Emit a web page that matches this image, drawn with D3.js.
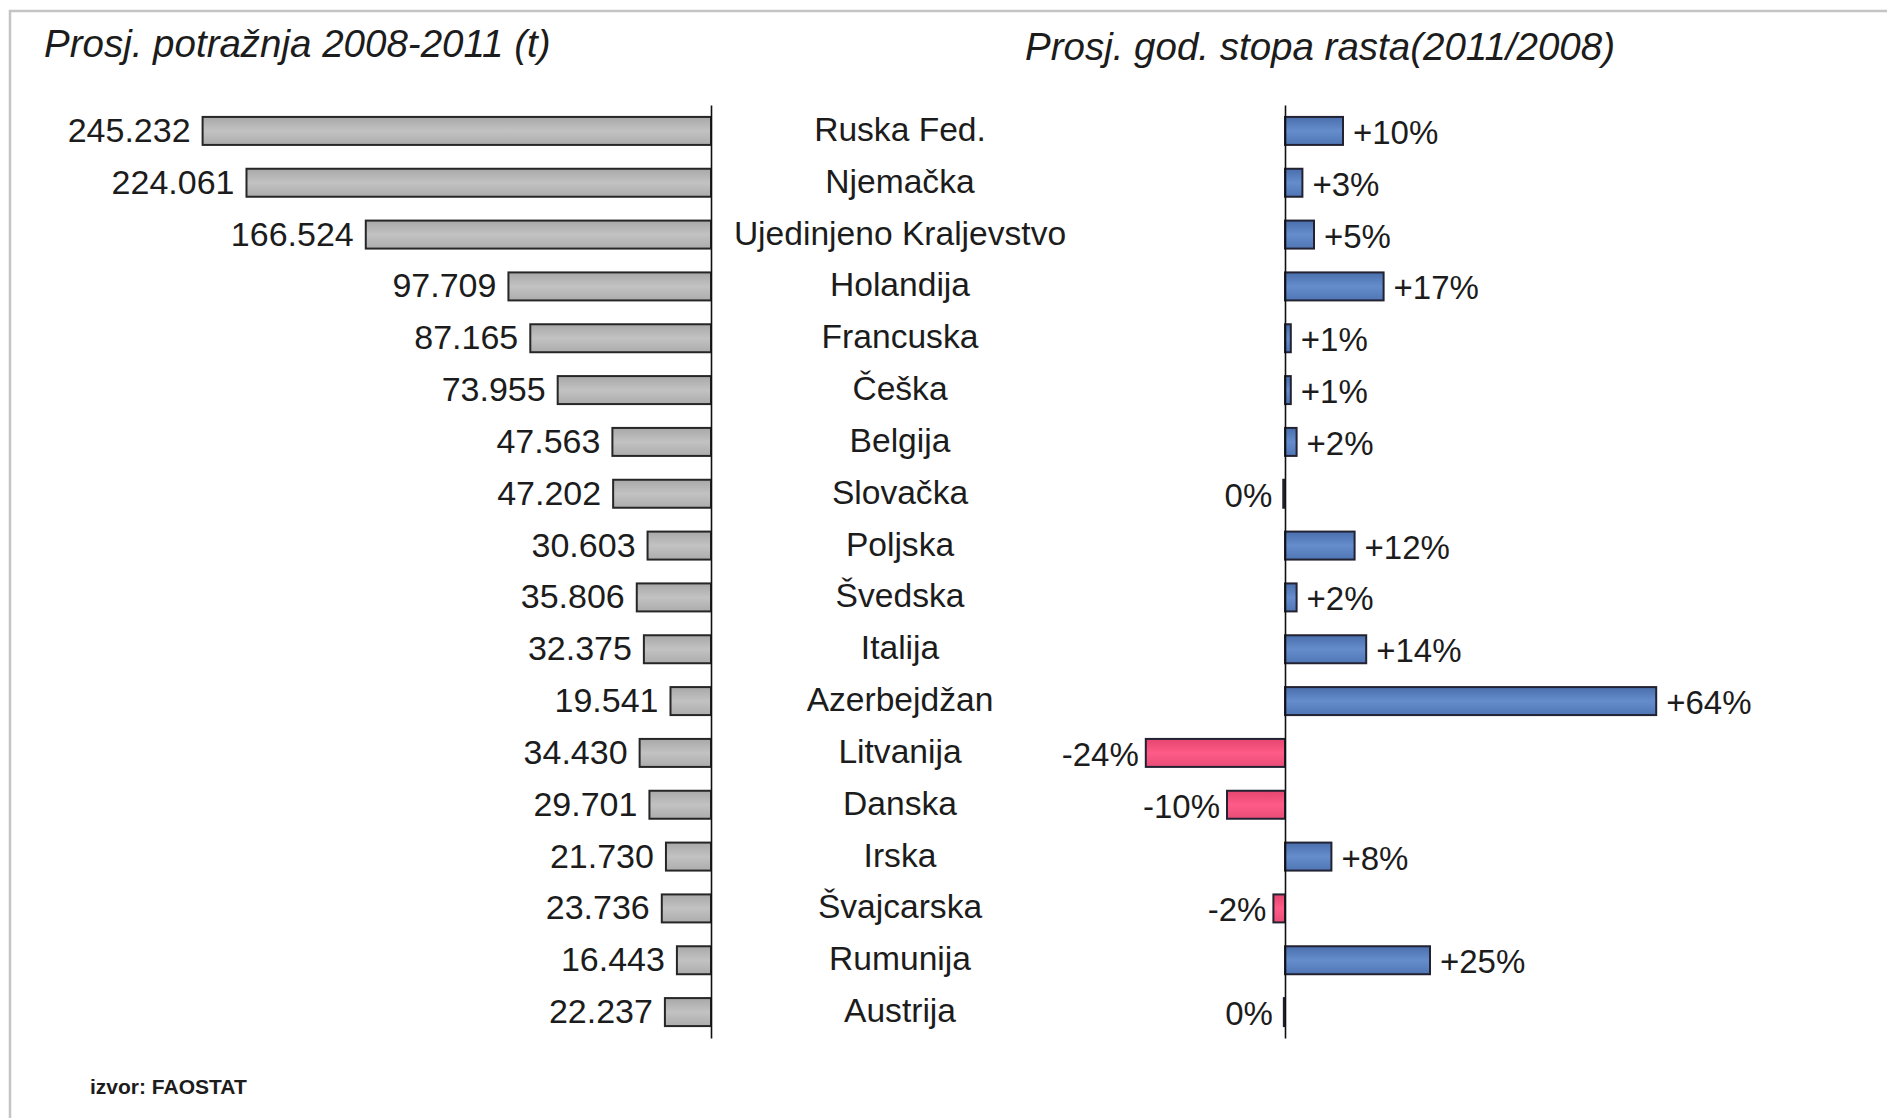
<!DOCTYPE html>
<html>
<head>
<meta charset="utf-8">
<script src="https://cdn.jsdelivr.net/npm/d3@7"></script>
<style>
  html, body { margin: 0; padding: 0; background: #ffffff; }
  svg { display: block; }
  text { font-family: "Liberation Sans", Arial, sans-serif; fill: #1c1c1c; }
</style>
</head>
<body>
<svg id="chart" width="1887" height="1118"></svg>
<script>
const countries = ["Ruska Fed.", "Njemačka", "Ujedinjeno Kraljevstvo", "Holandija", "Francuska", "Češka",
  "Belgija", "Slovačka", "Poljska", "Švedska", "Italija", "Azerbejdžan", "Litvanija", "Danska",
  "Irska", "Švajcarska", "Rumunija", "Austrija"];
const demand = [245.232, 224.061, 166.524, 97.709, 87.165, 73.955, 47.563, 47.202, 30.603, 35.806,
  32.375, 19.541, 34.430, 29.701, 21.730, 23.736, 16.443, 22.237];
const demandLabels = ["245.232", "224.061", "166.524", "97.709", "87.165", "73.955", "47.563", "47.202",
  "30.603", "35.806", "32.375", "19.541", "34.430", "29.701", "21.730", "23.736", "16.443", "22.237"];
const growth = [10, 3, 5, 17, 1, 1, 2, -0.3, 12, 2, 14, 64, -24, -10, 8, -2, 25, -0.2];
const growthLabels = ["+10%", "+3%", "+5%", "+17%", "+1%", "+1%", "+2%", "0%", "+12%", "+2%", "+14%",
  "+64%", "-24%", "-10%", "+8%", "-2%", "+25%", "0%"];
const titleLeft = "Prosj. potražnja 2008-2011 (t)";
const titleRight = "Prosj. god. stopa rasta(2011/2008)";
const source = "izvor: FAOSTAT";

const svg = d3.select("#chart");
const W = 1887, H = 1118;

svg.append("rect").attr("width", W).attr("height", H).attr("fill", "#ffffff");
// frame
svg.append("path").attr("d", `M10,${H} V11 H${W}`).attr("fill", "none")
  .attr("stroke", "#c4c4c4").attr("stroke-width", 2.5);

// gradients
const defs = svg.append("defs");
function grad(id, c1, c2, c3) {
  const g = defs.append("linearGradient").attr("id", id).attr("x1", 0).attr("y1", 0).attr("x2", 0).attr("y2", 1);
  g.append("stop").attr("offset", "0%").attr("stop-color", c1);
  g.append("stop").attr("offset", "50%").attr("stop-color", c2);
  g.append("stop").attr("offset", "100%").attr("stop-color", c3);
}
grad("gGray", "#a8a8a8", "#c2c2c2", "#acacac");
grad("gBlue", "#4a6eac", "#658dcc", "#4f75b4");
grad("gPink", "#e4456f", "#ff5b88", "#e84d77");

const y = d3.scaleBand().domain(countries).range([105, 1038]).paddingInner(0.46).paddingOuter(0.23);

// left chart
const xL = d3.scaleLinear().domain([0, 245.232]).range([711, 202.6]);
const gL = svg.append("g");
gL.selectAll("rect").data(countries).join("rect")
  .attr("x", (d, i) => xL(demand[i]))
  .attr("y", d => y(d))
  .attr("width", (d, i) => xL(0) - xL(demand[i]))
  .attr("height", y.bandwidth())
  .attr("fill", "url(#gGray)")
  .attr("stroke", "#262626").attr("stroke-width", 2);
gL.selectAll("text").data(countries).join("text")
  .attr("x", (d, i) => xL(demand[i]) - 12)
  .attr("y", d => y(d) + y.bandwidth() / 2 + 11)
  .attr("text-anchor", "end")
  .attr("font-size", 34)
  .text((d, i) => demandLabels[i]);
svg.append("g").attr("transform", `translate(${xL(0)},0)`)
  .call(d3.axisLeft(y).tickSize(0).tickFormat(""))
  .call(g => g.select(".domain").attr("stroke", "#111").attr("stroke-width", 1.6));

// categories
svg.append("g").selectAll("text").data(countries).join("text")
  .attr("x", 900)
  .attr("y", d => y(d) + y.bandwidth() / 2 + 10)
  .attr("text-anchor", "middle")
  .attr("font-size", 33.6)
  .text(d => d);

// right chart
const xR = d3.scaleLinear().domain([-24, 64]).range([1285 - 24 * 5.8, 1285 + 64 * 5.8]);
const gR = svg.append("g");
gR.selectAll("rect").data(countries).join("rect")
  .attr("x", (d, i) => Math.min(xR(0), xR(growth[i])))
  .attr("y", d => y(d))
  .attr("width", (d, i) => Math.abs(xR(growth[i]) - xR(0)))
  .attr("height", y.bandwidth())
  .attr("fill", (d, i) => growth[i] >= 0 ? "url(#gBlue)" : "url(#gPink)")
  .attr("stroke", "#222233").attr("stroke-width", 2);
gR.selectAll("text").data(countries).join("text")
  .attr("x", (d, i) => growth[i] > 0 ? xR(growth[i]) + 10 : xR(growth[i]) - (growth[i] > -1 ? 11 : 7))
  .attr("y", d => y(d) + y.bandwidth() / 2 + 13)
  .attr("text-anchor", (d, i) => growth[i] > 0 ? "start" : "end")
  .attr("font-size", 33)
  .text((d, i) => growthLabels[i]);
svg.append("g").attr("transform", `translate(${xR(0)},0)`)
  .call(d3.axisLeft(y).tickSize(0).tickFormat(""))
  .call(g => g.select(".domain").attr("stroke", "#111").attr("stroke-width", 1.6));

// titles
svg.append("text").attr("x", 44).attr("y", 57).attr("font-size", 38.5).attr("font-style", "italic").text(titleLeft);
svg.append("text").attr("x", 1320).attr("y", 60).attr("text-anchor", "middle").attr("font-size", 38.5)
  .attr("font-style", "italic").text(titleRight);
svg.append("text").attr("x", 90).attr("y", 1094).attr("font-size", 21).attr("font-weight", "bold").text(source);
</script>
</body>
</html>
